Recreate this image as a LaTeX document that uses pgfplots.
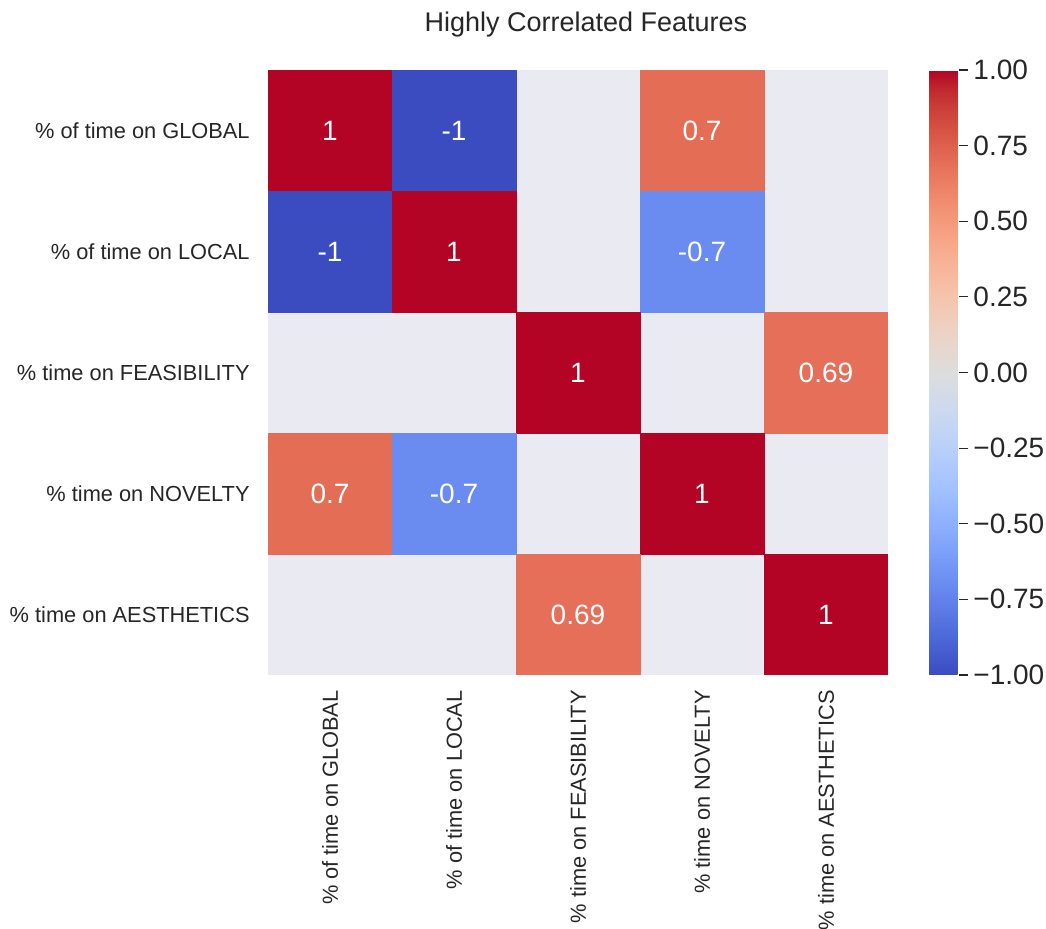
\documentclass[border=0pt]{standalone}
\usepackage{pgfplots}
\pgfplotsset{compat=1.18}
\usepgfplotslibrary{patchplots}
\usepackage{fontspec}
\setmainfont{Liberation Sans}
\definecolor{txt}{RGB}{38,38,38}
\definecolor{bg}{RGB}{234,234,242}
\pgfplotsset{colormap={coolwarm}{
rgb255=(59,76,192) rgb255=(68,90,204) rgb255=(77,104,215) rgb255=(87,117,225)
rgb255=(98,130,234) rgb255=(108,142,241) rgb255=(119,154,247) rgb255=(130,165,251)
rgb255=(141,176,254) rgb255=(152,185,255) rgb255=(163,194,255) rgb255=(174,201,253)
rgb255=(184,208,249) rgb255=(194,213,244) rgb255=(204,217,238) rgb255=(213,219,230)
rgb255=(221,221,221) rgb255=(229,216,209) rgb255=(236,211,197) rgb255=(241,204,185)
rgb255=(245,196,173) rgb255=(247,187,160) rgb255=(247,177,148) rgb255=(247,166,135)
rgb255=(244,154,123) rgb255=(241,141,111) rgb255=(236,127,99) rgb255=(229,112,88)
rgb255=(222,96,77) rgb255=(213,80,66) rgb255=(203,62,56) rgb255=(192,40,47)
rgb255=(180,4,38)}}
\begin{document}
\begin{tikzpicture}
\path[use as bounding box] (-134pt,-127pt) rectangle (389pt,337.5pt);
\begin{axis}[name=main, at={(0,0)}, anchor=south west, scale only axis, width=310pt, height=302.5pt,
  xmin=0, xmax=5, ymin=0, ymax=5, y dir=reverse,
  axis background/.style={fill=bg},
  axis line style={draw=none}, major tick length=0pt, tick style={draw=none},
  xtick={0.5,1.5,2.5,3.5,4.5}, ytick={0.5,1.5,2.5,3.5,4.5},
  xticklabels={\% of time on GLOBAL, \% of time on LOCAL, \% time on FEASIBILITY, \% time on NOVELTY, \% time on AESTHETICS},
  yticklabels={\% of time on GLOBAL, \% of time on LOCAL, \% time on FEASIBILITY, \% time on NOVELTY, \% time on AESTHETICS},
  xticklabel style={rotate=90, anchor=east, inner sep=0pt, font=\fontsize{10.9}{12}\selectfont, text=txt},
  yticklabel style={anchor=east, inner sep=0pt, font=\fontsize{10.9}{12}\selectfont, text=txt},
  xticklabel shift=7.5pt, yticklabel shift=9pt,
  colormap name=coolwarm, point meta min=-1, point meta max=1,
  colorbar,
  colorbar style={scale only axis, width=15pt, at={(parent axis.north east)}, anchor=north west, xshift=12pt,
    ytick={-1,-0.75,-0.5,-0.25,0,0.25,0.5,0.75,1},
    yticklabels={−1.00,−0.75,−0.50,−0.25,0.00,0.25,0.50,0.75,1.00},
    axis line style={draw=none}, tick align=outside, major tick length=4.5pt,
    ytick pos=right,
    ytick style={draw=txt, line width=0.6pt},
    yticklabel style={font=\fontsize{14}{16}\selectfont, text=txt, inner sep=0pt},
    yticklabel shift=2.5pt},
  title={Highly Correlated Features},
  title style={font=\fontsize{13.5}{16}\selectfont, text=txt, anchor=base, at={(0.5,1)}, yshift=13pt, xshift=4pt},
]
\addplot[patch, patch type=rectangle, shader=flat, point meta=explicit] table[meta=c] {
x y c
0 0 1
1 0 1
1 1 1
0 1 1
1 0 -1
2 0 -1
2 1 -1
1 1 -1
3 0 0.7
4 0 0.7
4 1 0.7
3 1 0.7
0 1 -1
1 1 -1
1 2 -1
0 2 -1
1 1 1
2 1 1
2 2 1
1 2 1
3 1 -0.7
4 1 -0.7
4 2 -0.7
3 2 -0.7
2 2 1
3 2 1
3 3 1
2 3 1
4 2 0.69
5 2 0.69
5 3 0.69
4 3 0.69
0 3 0.7
1 3 0.7
1 4 0.7
0 4 0.7
1 3 -0.7
2 3 -0.7
2 4 -0.7
1 4 -0.7
3 3 1
4 3 1
4 4 1
3 4 1
2 4 0.69
3 4 0.69
3 5 0.69
2 5 0.69
4 4 1
5 4 1
5 5 1
4 5 1
};
\addplot[draw=none, mark=none, nodes near coords, point meta=explicit symbolic,
  every node near coord/.append style={anchor=center, font=\fontsize{14}{16}\selectfont, text=white}] table[meta=l] {
x y l
0.5 0.5 1
1.5 0.5 -1
3.5 0.5 0.7
0.5 1.5 -1
1.5 1.5 1
3.5 1.5 -0.7
2.5 2.5 1
4.5 2.5 0.69
0.5 3.5 0.7
1.5 3.5 -0.7
3.5 3.5 1
2.5 4.5 0.69
4.5 4.5 1
};
\end{axis}
\end{tikzpicture}
\end{document}
